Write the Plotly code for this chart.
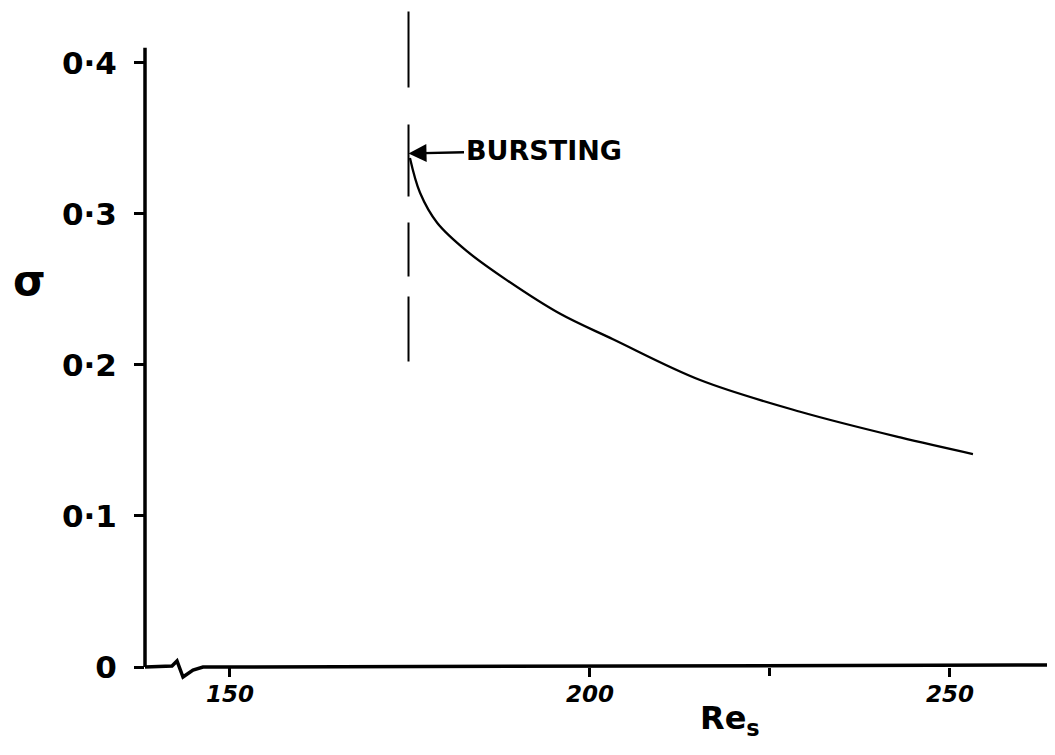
import plotly.graph_objects as go

# ---- data ----
re_s = [175.0, 176.4, 178.8, 183.0, 188.5, 195.8, 203.2, 215.3, 229.2, 243.1, 253.2]
sigma = [0.337, 0.314, 0.294, 0.275, 0.256, 0.234, 0.217, 0.190, 0.169, 0.152, 0.141]

burst_re = 174.8
burst_line_sigma = [0.434, 0.202]
burst_sigma = 0.340

x_tickvals = [150, 200, 250]
x_ticktext = ["150", "200", "250"]
x_minor_tickvals = [225]
y_tickvals = [0, 0.1, 0.2, 0.3, 0.4]
y_ticktext = ["0", "0·1", "0·2", "0·3", "0·4"]

X_RANGE = [138.2, 263.9]
Y_RANGE = [0, 0.435]
Y_AXIS_TOP = 0.41

OFF = 8                      # page body margin
W, H = 1055 - OFF, 755 - OFF
ML, MR, MT, MB = 137, 5, 2, 88
PW, PH = W - ML - MR, H - MT - MB


def px(xs, ys):
    """screen pixel -> paper coords (for hand-drawn axis decoration)"""
    return (xs - OFF - ML) / PW, (H - MB - (ys - OFF)) / PH


fig = go.Figure()

# curve
fig.add_trace(go.Scatter(
    x=re_s, y=sigma, mode="lines",
    line=dict(color="black", width=2.3, shape="spline", smoothing=1.0),
    hoverinfo="skip", showlegend=False))

# dashed bursting line
fig.add_trace(go.Scatter(
    x=[burst_re, burst_re], y=burst_line_sigma, mode="lines",
    line=dict(color="black", width=2,
              dash="76px,37px,72px,26px,54px,20px,65px,30px"),
    hoverinfo="skip", showlegend=False))

# axes drawn by hand (with break squiggle on x axis)
pts = [(145, 667), (172, 666), (177, 661), (183, 677), (193, 670),
       (203, 667), (1050, 665)]
path = ""
for i, (a, b) in enumerate(pts):
    u, v = px(a, b)
    path += ("M" if i == 0 else "L") + f"{u:.5f},{v:.5f} "
shapes = [
    dict(type="path", xref="paper", yref="paper", path=path,
         line=dict(color="black", width=3.5)),
    dict(type="line", xref="paper", yref="y", x0=0, x1=0, y0=0, y1=Y_AXIS_TOP,
         line=dict(color="black", width=3.5)),
]

font_main = "DejaVu Sans"
sx, sy = px(30, 280)
annotations = [
    dict(x=burst_re, y=burst_sigma, xref="x", yref="y",
         text="<b>BURSTING</b>", showarrow=True, arrowhead=2, arrowsize=1.5,
         arrowwidth=2.4, arrowcolor="black", ax=135, ay=-3,
         font=dict(family=font_main, size=27, color="black")),
    dict(x=sx, y=sy, xref="paper", yref="paper", xanchor="center",
         yanchor="middle", text="<b>σ</b>", showarrow=False,
         font=dict(family=font_main, size=42, color="black")),
    dict(x=219.5, y=px(0, 720)[1], xref="x", yref="paper", xanchor="center",
         yanchor="middle", text="<b>Re<sub>s</sub></b>", showarrow=False,
         font=dict(family=font_main, size=32, color="black")),
]

fig.update_layout(
    width=W, height=H, autosize=False,
    margin=dict(l=ML, r=MR, t=MT, b=MB),
    plot_bgcolor="white", paper_bgcolor="white",
    shapes=shapes, annotations=annotations,
    xaxis=dict(range=X_RANGE, showgrid=False, zeroline=False, showline=False,
               tickvals=x_tickvals, ticktext=x_ticktext,
               ticks="outside", ticklen=9, tickwidth=3, tickcolor="black",
               ticklabelstandoff=-3,
               minor=dict(tickvals=x_minor_tickvals, ticks="outside",
                          ticklen=8, tickwidth=3, tickcolor="black",
                          showgrid=False),
               tickfont=dict(family=font_main, size=23, color="black",
                             weight="bold", style="italic")),
    yaxis=dict(range=Y_RANGE, showgrid=False, zeroline=False, showline=False,
               tickvals=y_tickvals, ticktext=y_ticktext,
               ticks="outside", ticklen=10, tickwidth=3, tickcolor="black",
               ticklabelstandoff=11,
               tickfont=dict(family=font_main, size=31, color="black",
                             weight="bold")),
)

fig.write_html("out.html")
